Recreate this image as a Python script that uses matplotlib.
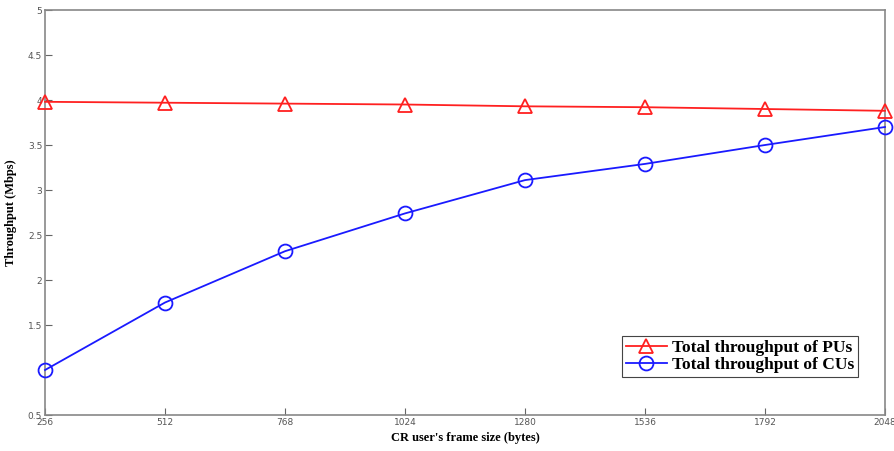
import matplotlib
matplotlib.use("Agg")
import matplotlib.pyplot as plt

frame_size = [256, 512, 768, 1024, 1280, 1536, 1792, 2048]
pu_throughput = [3.98, 3.97, 3.96, 3.95, 3.93, 3.92, 3.90, 3.88]
cu_throughput = [1.00, 1.75, 2.32, 2.74, 3.11, 3.29, 3.50, 3.70]
y_ticks = [0.5, 1.5, 2, 2.5, 3, 3.5, 4, 4.5, 5]

fig = plt.figure(figsize=(8.95, 4.51), dpi=100)
ax = fig.add_axes([0.0503, 0.0798, 0.9385, 0.898])

ax.plot(frame_size, pu_throughput, color='#ff2020', marker='^', markersize=10,
        markerfacecolor='none', markeredgecolor='#ff2020', markeredgewidth=1.3,
        linewidth=1.3, label='Total throughput of PUs', clip_on=False, zorder=3)
ax.plot(frame_size, cu_throughput, color='#1a1aff', marker='o', markersize=10,
        markerfacecolor='none', markeredgecolor='#1a1aff', markeredgewidth=1.3,
        linewidth=1.3, label='Total throughput of CUs', clip_on=False, zorder=3)

ax.set_xlim(256, 2048)
ax.set_ylim(0.5, 5)
ax.set_xticks(frame_size)
ax.set_yticks(y_ticks)
ax.set_xticklabels([str(v) for v in frame_size])
ax.set_yticklabels([str(v) for v in y_ticks])
ax.tick_params(direction='in', length=5, width=0.8, labelsize=6.5,
               labelcolor='#555555', color='#666666', pad=2)

for s in ax.spines.values():
    s.set_color('#888888')
    s.set_linewidth(1.2)

ax.set_xlabel("CR user's frame size (bytes)", fontfamily='Liberation Serif',
              fontweight='bold', fontsize=9, labelpad=4)
ax.set_ylabel("Throughput (Mbps)", fontfamily='Liberation Serif',
              fontweight='bold', fontsize=9, labelpad=8)

leg = ax.legend(loc='lower right', bbox_to_anchor=(0.968, 0.095),
                prop={'family': 'Liberation Serif', 'weight': 'bold', 'size': 12.5},
                fancybox=False, framealpha=1, edgecolor='#444444',
                borderpad=0.2, labelspacing=0.05, handlelength=2.4,
                handletextpad=0.3, borderaxespad=0)
leg.get_frame().set_linewidth(0.8)

fig.savefig('out.png', dpi=100)
